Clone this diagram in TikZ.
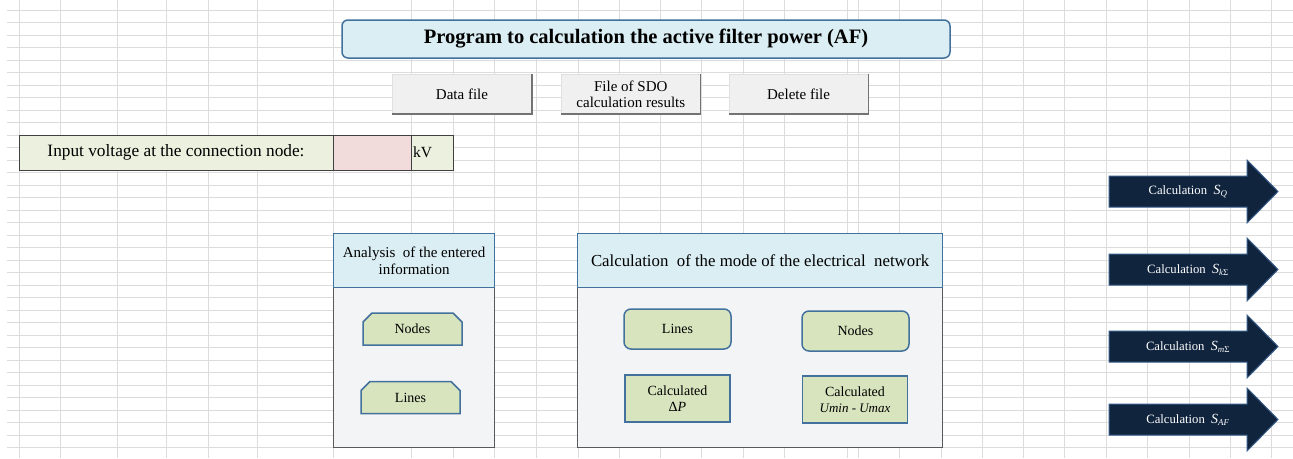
\documentclass[tikz,border=0pt]{standalone}
\usepackage{fontspec}
\setmainfont{Liberation Serif}
\usetikzlibrary{positioning,shapes.misc}

\definecolor{gridgray}{HTML}{DCDCDC}
\definecolor{headblue}{HTML}{DAEEF3}
\definecolor{edgeblue}{HTML}{41719C}
\definecolor{cellgreen}{HTML}{EBF1DE}
\definecolor{cellpink}{HTML}{F2DCDB}
\definecolor{boxgreen}{HTML}{D7E4BD}
\definecolor{panelgray}{HTML}{F3F4F6}
\definecolor{btngray}{HTML}{F0F0F0}
\definecolor{navy}{HTML}{10243E}
\definecolor{navyedge}{HTML}{385D8A}

\tikzset{
  gridline/.style={draw=gridgray, line width=0.8pt},
  titlebox/.style={draw=edgeblue, line width=1.5pt, fill=headblue, rounded corners=6pt,
    minimum width=608pt, minimum height=38pt, inner sep=0pt,
    font=\fontsize{20.5}{24}\selectfont\bfseries},
  button/.style={fill=btngray, draw=black!12, line width=0.8pt, minimum width=139pt,
    minimum height=39pt, inner sep=0pt, align=center, font=\fontsize{15}{16}\selectfont},
  btnshadow/.style={draw=black!55, line width=1.2pt},
  cell/.style={draw=black!75, line width=1pt, minimum height=35pt, inner sep=0pt,
    outer sep=0pt, anchor=west},
  panelhead/.style={draw=edgeblue, line width=1.2pt, fill=headblue, anchor=north west,
    inner sep=0pt, align=center},
  panelbody/.style={draw=black!65, line width=1.2pt, fill=panelgray, anchor=north west},
  snipbox/.style={chamfered rectangle, chamfered rectangle corners={north west,north east},
    chamfered rectangle xsep=4pt, chamfered rectangle ysep=5pt,
    draw=edgeblue, line width=1.5pt, fill=boxgreen, minimum width=99pt, minimum height=32pt,
    inner sep=0pt, font=\fontsize{14}{16}\selectfont},
  roundbox/.style={draw=edgeblue, line width=1.5pt, fill=boxgreen, rounded corners=7pt,
    minimum width=107pt, minimum height=40pt, inner sep=0pt, font=\fontsize{14}{16}\selectfont},
  calcbox/.style={draw=edgeblue, line width=1.5pt, fill=boxgreen, minimum width=105pt,
    minimum height=47pt, inner sep=0pt, align=center, font=\fontsize{14}{16.5}\selectfont},
  arrowbody/.style={fill=navy, draw=navyedge, line width=1pt},
  arrowtext/.style={text=white, inner sep=0pt, font=\fontsize{12.7}{15}\selectfont}
}

\begin{document}
\begin{tikzpicture}[x=1pt, y=-1pt]
  \useasboundingbox (0,0) rectangle (1293,458);
  \fill[white] (0,0) rectangle (1293,458);

  % sheet grid
  \foreach \gx in {19,60,117,166,208,257,333,411,453,494,536,578,619,660,701,743,784,847,858,899,941,982,1023,1064,1106,1147,1189,1230,1271}
    \draw[gridline] (\gx,0) -- (\gx,458);
  \foreach \gy in {10,22.5,...,448}
    \draw[gridline] (7,\gy) -- (1293,\gy);

  % title and buttons
  \node[titlebox] (title) at (646,39) {Program to calculation the active filter power (AF)};
  \node[button] (datafile) at (462,94) {Data file};
  \node[button, right=29pt of datafile] (sdofile) {File of SDO\\calculation results};
  \node[button, right=28pt of sdofile] (delfile) {Delete file};
  \foreach \b in {datafile,sdofile,delfile}
    \draw[btnshadow] (\b.north east) -- (\b.south east) -- (\b.south west);

  % input row
  \node[cell, fill=cellgreen, minimum width=314pt, font=\fontsize{17.3}{20}\selectfont] (inlabel) at (19,152.5) {Input voltage at the connection node:};
  \node[cell, fill=cellpink, minimum width=78pt, right=0pt of inlabel] (invalue) {};
  \node[cell, fill=cellgreen, minimum width=42pt, text width=38pt, align=left, right=0pt of invalue, font=\fontsize{15.5}{18}\selectfont] (inunit) {kV};

  % analysis panel
  \node[panelbody, minimum width=161pt, minimum height=160pt] (anbody) at (333,287) {};
  \node[panelhead, minimum width=161pt, minimum height=54pt, font=\fontsize{15}{17.5}\selectfont] (anhead) at (333,233) {Analysis~ of the entered\\information};
  \node[snipbox] (annodes) at (412.5,329) {Nodes};
  \node[snipbox] (anlines) at (410.5,397.5) {Lines};

  % network mode panel
  \node[panelbody, minimum width=365pt, minimum height=160pt] (cmbody) at (577,287) {};
  \node[panelhead, minimum width=365pt, minimum height=54pt, font=\fontsize{16.8}{19}\selectfont] (cmhead) at (577,233) {Calculation~ of the mode of the electrical~ network};
  \node[roundbox] (cmlines) at (677.5,329) {Lines};
  \node[roundbox] (cmnodes) at (855.5,331) {Nodes};
  \node[calcbox] (cmdp) at (677.5,398.5) {Calculated\\Δ\textit{P}};
  \node[calcbox] (cmu) at (855,399.5) {Calculated\\{\itshape\fontsize{13}{15}\selectfont Umin - Umax}};

  % calculation arrows
  \foreach \ay/\an/\al in {191.5/calcsq/{Calculation~ {\fontsize{14}{15}\selectfont\textit{S}}\textsubscript{\textit{Q}}},
      269.5/calcsk/{Calculation~ {\fontsize{14}{15}\selectfont\textit{S}}\textsubscript{\textit{k}Σ}},
      346.5/calcsm/{Calculation~ {\fontsize{14}{15}\selectfont\textit{S}}\textsubscript{\textit{m}Σ}},
      419.5/calcsaf/{Calculation~ {\fontsize{14}{15}\selectfont\textit{S}}\textsubscript{\textit{AF}}}} {
    \path[arrowbody] (1109,\ay-15.5) -- (1247,\ay-15.5) -- (1247,\ay-31.5) -- (1278,\ay)
      -- (1247,\ay+31.5) -- (1247,\ay+15.5) -- (1109,\ay+15.5) -- cycle;
    \node[arrowtext] (\an) at (1188,\ay) {\al};
  }
\end{tikzpicture}
\end{document}
